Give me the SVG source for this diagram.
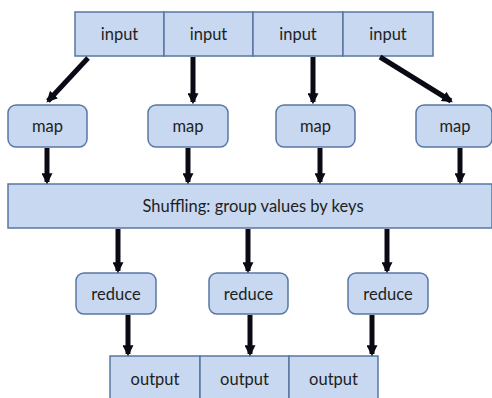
<svg xmlns="http://www.w3.org/2000/svg" width="492" height="398" viewBox="0 0 492 398">
  <style>
    .box { fill: #c7d8f0; stroke: #5877a3; stroke-width: 1.5; }
    .lbl { font-family: Lato, "Open Sans", "Liberation Sans", sans-serif; font-size: 16.5px; fill: #1e1e1e; text-anchor: middle; dominant-baseline: central; }
    .arrow { stroke: #0a0a14; stroke-width: 5; fill: none; marker-end: url(#head); }
  </style>
  <defs>
    <marker id="head" viewBox="0 0 10 10" refX="8" refY="5" markerWidth="2.2" markerHeight="2.2" orient="auto" markerUnits="strokeWidth">
      <path d="M0,0 L10,5 L0,10 z" fill="#0a0a14"/>
    </marker>
  </defs>
  <rect width="492" height="398" fill="#ffffff"/>

  <!-- input row -->
  <g id="input1"><rect class="box" x="75" y="12" width="89" height="44"/><text class="lbl" x="119.5" y="34">input</text></g>
  <g id="input2"><rect class="box" x="164" y="12" width="89" height="44"/><text class="lbl" x="208.5" y="34">input</text></g>
  <g id="input3"><rect class="box" x="253" y="12" width="90" height="44"/><text class="lbl" x="298" y="34">input</text></g>
  <g id="input4"><rect class="box" x="343" y="12" width="90" height="44"/><text class="lbl" x="388" y="34">input</text></g>

  <!-- map tasks -->
  <g id="map1"><rect class="box" x="8" y="105" width="79" height="42" rx="8"/><text class="lbl" x="47.5" y="126">map</text></g>
  <g id="map2"><rect class="box" x="148" y="105" width="80" height="42" rx="8"/><text class="lbl" x="188" y="126">map</text></g>
  <g id="map3"><rect class="box" x="276" y="105" width="79" height="42" rx="8"/><text class="lbl" x="315.5" y="126">map</text></g>
  <g id="map4"><rect class="box" x="416" y="105" width="76" height="42" rx="8"/><text class="lbl" x="455" y="126">map</text></g>

  <!-- shuffle stage -->
  <g id="shuffle"><rect class="box" x="8" y="184" width="484" height="44"/><text class="lbl" x="253" y="206">Shuffling: group values by keys</text></g>

  <!-- reduce tasks -->
  <g id="reduce1"><rect class="box" x="76" y="273" width="80" height="41" rx="8"/><text class="lbl" x="116" y="294">reduce</text></g>
  <g id="reduce2"><rect class="box" x="209" y="273" width="79" height="41" rx="8"/><text class="lbl" x="248.5" y="294">reduce</text></g>
  <g id="reduce3"><rect class="box" x="348" y="273" width="80" height="41" rx="8"/><text class="lbl" x="388" y="294">reduce</text></g>

  <!-- output row -->
  <g id="output1"><rect class="box" x="110" y="356" width="90" height="46"/><text class="lbl" x="155" y="379">output</text></g>
  <g id="output2"><rect class="box" x="200" y="356" width="89" height="46"/><text class="lbl" x="244.5" y="379">output</text></g>
  <g id="output3"><rect class="box" x="289" y="356" width="89" height="46"/><text class="lbl" x="333.5" y="379">output</text></g>

  <!-- connectors -->
  <g id="connectors">
    <line class="arrow" x1="88" y1="58" x2="48" y2="101"/>
    <line class="arrow" x1="193" y1="57" x2="193" y2="102"/>
    <line class="arrow" x1="313" y1="57" x2="313" y2="102"/>
    <line class="arrow" x1="380" y1="57" x2="451" y2="101"/>

    <line class="arrow" x1="47" y1="148" x2="47" y2="182"/>
    <line class="arrow" x1="188" y1="148" x2="188" y2="182"/>
    <line class="arrow" x1="320" y1="148" x2="320" y2="182"/>
    <line class="arrow" x1="460" y1="148" x2="460" y2="182"/>

    <line class="arrow" x1="118" y1="229" x2="118" y2="271"/>
    <line class="arrow" x1="248" y1="229" x2="248" y2="271"/>
    <line class="arrow" x1="387" y1="229" x2="387" y2="271"/>

    <line class="arrow" x1="128" y1="315" x2="128" y2="354"/>
    <line class="arrow" x1="250" y1="315" x2="250" y2="354"/>
    <line class="arrow" x1="372" y1="315" x2="372" y2="354"/>
  </g>
</svg>
